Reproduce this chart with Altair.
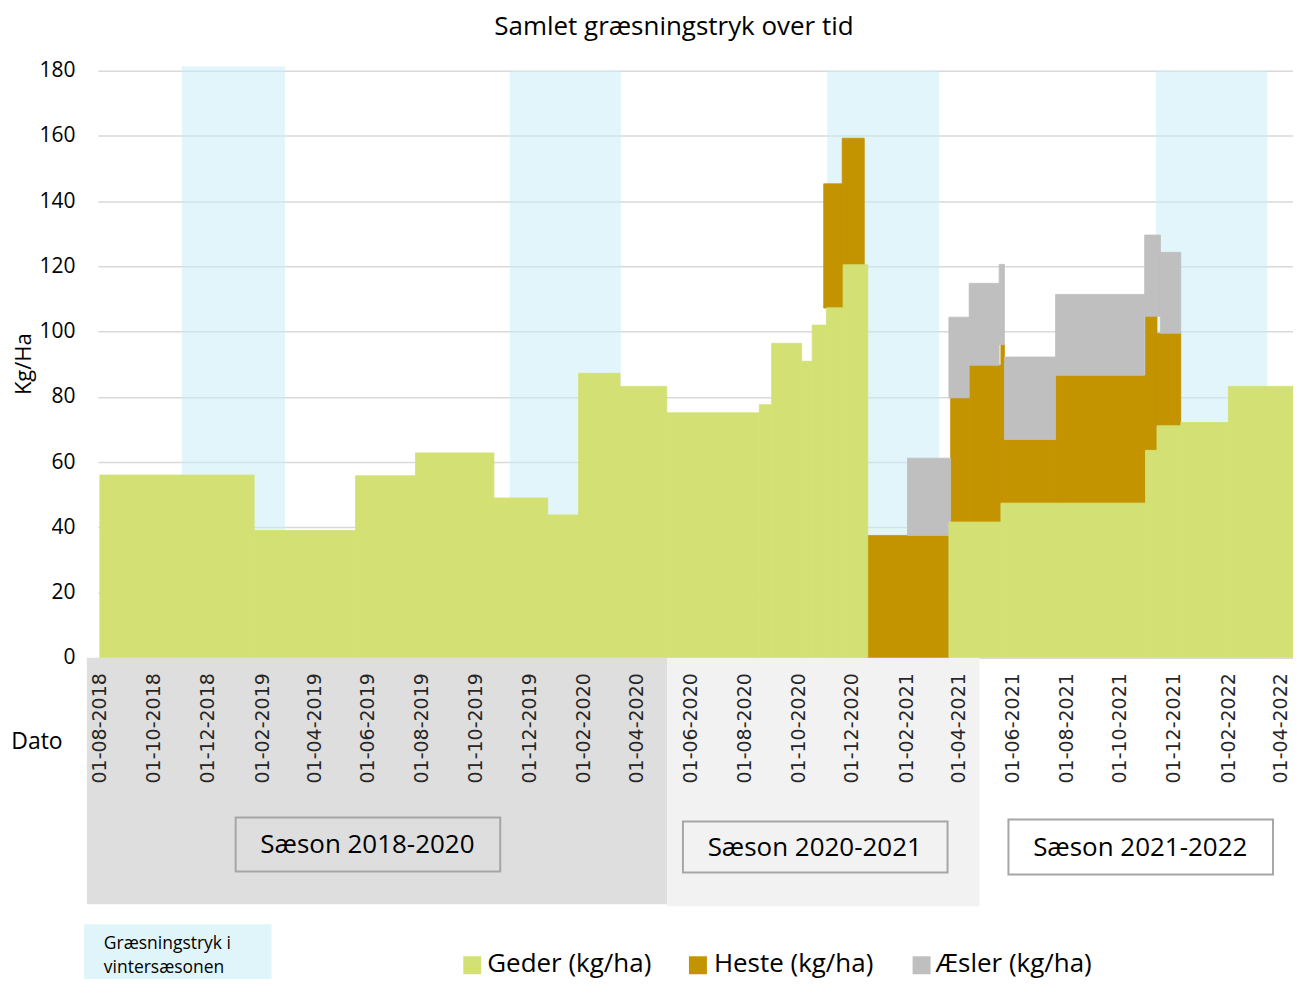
import altair as alt
import pandas as pd

# ---------------- data ----------------
geder_start = ["2018-08-01", "2019-01-23", "2019-05-18", "2019-07-25", "2019-10-22", "2019-12-22",
               "2020-01-26", "2020-03-13", "2020-05-05", "2020-08-18", "2020-09-01", "2020-10-05",
               "2020-10-17", "2020-11-02", "2020-11-21", "2021-03-21", "2021-05-19", "2021-10-30",
               "2021-11-12", "2021-12-09", "2022-02-01"]
geder_end = ["2019-01-23", "2019-05-18", "2019-07-25", "2019-10-22", "2019-12-22", "2020-01-26",
             "2020-03-13", "2020-05-05", "2020-08-18", "2020-09-01", "2020-10-05", "2020-10-17",
             "2020-11-02", "2020-11-21", "2020-12-19", "2021-05-19", "2021-10-30", "2021-11-12",
             "2021-12-09", "2022-02-01", "2022-04-16"]
geder_val = [56, 39, 55.8, 62.8, 49, 43.8, 87.2, 83.2, 75.1, 77.6, 96.4, 90.9,
             102, 107.3, 120.5, 41.6, 47.4, 63.6, 71.1, 72.1, 83.2]

heste_start = ["2020-10-30", "2020-11-20", "2020-12-17", "2021-03-23", "2021-04-13", "2021-05-19",
               "2021-05-23", "2021-07-20", "2021-10-30", "2021-11-12"]
heste_end = ["2020-11-20", "2020-12-15", "2021-03-21", "2021-04-13", "2021-05-19", "2021-05-23",
             "2021-07-20", "2021-10-30", "2021-11-12", "2021-12-09"]
heste_low = [107.2, 107.2, 0, 41.6, 41.6, 47.4, 47.4, 47.4, 63.6, 71.1]
heste_high = [145.3, 159.3, 37.5, 79.7, 89.7, 96.0, 66.9, 86.6, 104.7, 99.5]

aesler_start = ["2021-02-02", "2021-03-21", "2021-04-13", "2021-05-17", "2021-05-23", "2021-07-20",
                "2021-10-29", "2021-11-16"]
aesler_end = ["2021-03-23", "2021-04-13", "2021-05-17", "2021-05-23", "2021-07-20", "2021-10-29",
              "2021-11-16", "2021-12-09"]
aesler_low = [37.5, 79.7, 89.7, 96.0, 66.9, 86.6, 104.7, 99.5]
aesler_high = [61.2, 104.4, 114.8, 120.6, 92.2, 111.4, 129.6, 124.3]

winter_start = ["2018-11-02", "2019-11-09", "2020-11-03", "2021-11-11"]
winter_end = ["2019-02-27", "2020-03-14", "2021-03-10", "2022-03-17"]
winter_top = [181.3, 180, 180, 180]

tick_dates = [(2018, 8), (2018, 10), (2018, 12), (2019, 2), (2019, 4), (2019, 6), (2019, 8),
              (2019, 10), (2019, 12), (2020, 2), (2020, 4), (2020, 6), (2020, 8), (2020, 10),
              (2020, 12), (2021, 2), (2021, 4), (2021, 6), (2021, 8), (2021, 10), (2021, 12),
              (2022, 2), (2022, 4)]
y_ticks = [0, 20, 40, 60, 80, 100, 120, 140, 160, 180]

title_text = "Samlet græsningstryk over tid"
season_labels = ["Sæson 2018-2020", "Sæson 2020-2021", "Sæson 2021-2022"]
series_names = ["Geder (kg/ha)", "Heste (kg/ha)", "Æsler (kg/ha)"]
winter_label = ["Græsningstryk i", "vintersæsonen"]

# ---------------- styling ----------------
GREEN = "#d3e174"
GOLD = "#c39300"
GRAY = "#bfbfbf"
BLUE = "#e0f5fa"
FONT = "Open Sans"

W, H = 1197, 588

df_geder = pd.DataFrame({"start": geder_start, "end": geder_end,
                         "low": [0] * len(geder_val), "high": geder_val})
df_heste = pd.DataFrame({"start": heste_start, "end": heste_end, "low": heste_low, "high": heste_high})
df_aesler = pd.DataFrame({"start": aesler_start, "end": aesler_end, "low": aesler_low, "high": aesler_high})
df_winter = pd.DataFrame({"start": winter_start, "end": winter_end,
                          "low": [0] * len(winter_top), "high": winter_top})

xscale = alt.Scale(type="utc",
                   domain=[alt.DateTime(year=2018, month=7, date=29, hours=18, utc=True),
                           alt.DateTime(year=2022, month=4, date=15, hours=7, utc=True)])
xaxis = alt.Axis(values=[alt.DateTime(year=y, month=m, date=1, utc=True) for y, m in tick_dates],
                 labelExpr="utcFormat(datum.value, '%d-%m-%Y')",
                 labelAngle=270, labelAlign="right",
                 labelBaseline="middle", labelFont="DejaVu Sans", labelFontSize=19,
                 labelColor="#262626", labelPadding=15, labelOverlap=False, labelFlush=False,
                 ticks=False, domain=False, grid=False, title=None, zindex=1)
yscale = alt.Scale(domain=[0, 180], nice=False, zero=True)
yaxis = alt.Axis(values=y_ticks, labelFont=FONT, labelFontSize=21, labelColor="#000000",
                 labelPadding=23, ticks=False, domain=False, grid=True, gridColor="#d9d9d9",
                 gridWidth=1.5, title=None, zindex=0)

enc = dict(
    x=alt.X("start:T", scale=xscale, axis=xaxis),
    x2="end:T",
    y=alt.Y("low:Q", scale=yscale, axis=yaxis),
    y2="high:Q",
)

winter = alt.Chart(df_winter).mark_rect(color="#c9edf6", opacity=0.55, clip=False).encode(**enc)
heste = alt.Chart(df_heste).mark_rect(color=GOLD, stroke=GOLD, strokeWidth=0.8, clip=True).encode(**enc)
aesler = alt.Chart(df_aesler).mark_rect(color=GRAY, stroke=GRAY, strokeWidth=0.8, clip=True).encode(**enc)
geder = alt.Chart(df_geder).mark_rect(color=GREEN, stroke=GREEN, strokeWidth=0.8, clip=True).encode(**enc)


def box(x1, x2, y1, y2, fill, stroke=None, sw=0):
    kw = dict(fill=fill)
    if stroke:
        kw.update(stroke=stroke, strokeWidth=sw)
    return alt.Chart(pd.DataFrame({"a": [0]})).mark_rect(**kw).encode(
        x=alt.value(x1), x2=alt.value(x2), y=alt.value(y1), y2=alt.value(y2))


def label(txt, x, y, size, align="center", angle=0, font=FONT, color="#000000"):
    kw = dict(font=font, fontSize=size, align=align, baseline="middle", color=color)
    if angle:
        kw["angle"] = angle
    return alt.Chart(pd.DataFrame({"t": [txt]})).mark_text(**kw).encode(
        x=alt.value(x), y=alt.value(y), text="t:N")


layers = [
    # season backgrounds below the axis
    box(-11, 570, 588, 835, "#dedede"),
    box(570, 883, 588, 837, "#f2f2f2"),
    box(138, 403, 748, 802, "#dedede", "#a6a6a6", 2),
    box(586, 851, 752, 803, "#f2f2f2", "#a6a6a6", 2),
    box(912, 1177, 750, 805, "#ffffff", "#a6a6a6", 2),
    winter, heste, aesler, geder,
    label(season_labels[0], 270, 776, 26),
    label(season_labels[1], 718, 779, 26),
    label(season_labels[2], 1044, 779, 26),
    label(title_text, 577, -44, 26),
    label("Kg/Ha", -74, 294, 22, angle=270),
    label("Dato", -61, 672, 23),
    # legend
    box(-14, 174, 855, 917, BLUE),
    label(winter_label[0], 6, 875, 17.5, align="left"),
    label(winter_label[1], 6, 899, 17.5, align="left"),
    box(366, 384, 887, 905, GREEN),
    box(592, 610, 887, 905, GOLD),
    box(816, 834, 887, 905, GRAY),
    label(series_names[0], 390, 895, 26, align="left"),
    label(series_names[1], 617, 895, 26, align="left"),
    label(series_names[2], 839, 895, 26, align="left"),
]

chart = alt.layer(*layers).properties(
    width=W, height=H,
    autosize=alt.AutoSizeParams(type="none"),
    padding={"left": 90, "top": 62, "right": 0, "bottom": 321},
).configure_view(stroke=None)

chart.save("out.html", embed_options={"renderer": "svg", "actions": False})
